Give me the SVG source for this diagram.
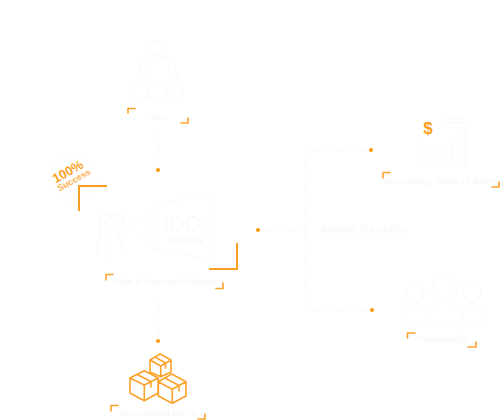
<svg xmlns="http://www.w3.org/2000/svg" width="500" height="420" viewBox="0 0 500 420">
<defs>
<style>
.f{fill:none;stroke:#fafafa;stroke-width:1}
.c{fill:none;stroke:#fc9f1e;stroke-width:2}
.o{fill:none;stroke:#fca22a;stroke-width:1.600;stroke-linejoin:round;stroke-linecap:round}
.d{fill:#fc9a0e}
.l{fill:none;stroke:#f6f6f6;stroke-width:1;stroke-dasharray:2 1}
text{font-family:"Liberation Sans",Arial,sans-serif}
.t{fill:#f9f9f9;font-size:9.500px;font-weight:bold;text-anchor:middle}
</style>
</defs>
<g id="connectors">
<path class="l" d="M158 135V170"/>
<path class="l" d="M158 298V341"/>
<path class="l" d="M258 230H306M371 150H306V310H372"/>
<circle class="d" cx="158" cy="170" r="2"/>
<circle class="d" cx="158" cy="341" r="2"/>
<circle class="d" cx="258" cy="230" r="2"/>
<circle class="d" cx="371" cy="150" r="2"/>
<circle class="d" cx="372" cy="310" r="2"/>
</g>
<g id="you">
<circle class="f" cx="158" cy="48" r="7.500"/>
<path class="f" d="M150 43H166M143 60L152 57H164L173 60L178 78H172L169 66V85M146 66V85M143 60L138 78H144M152 57L158 64L164 57"/>
<path class="f" d="M133 85H148V98H133ZM150 85H166V98H150ZM168 85H183V98H168Z"/>
<path class="o" d="M128 113V108.500H135M188 118V123H181"/>
<text class="t" x="158" y="120">You</text>
</g>
<g id="safe-secure">
<circle cx="73" cy="178" r="23" fill="none" stroke="#fcfcfc"/>
<g transform="rotate(-29 68 172)"><text x="68" y="176" fill="#fc9f1e" font-size="13" font-weight="bold" text-anchor="middle">100%</text></g>
<g transform="rotate(-29 74 180)"><text x="74" y="183" fill="#fcb050" font-size="9" font-weight="bold" text-anchor="middle">Success</text></g>
<path class="c" d="M79 211V186H107"/>
<path class="c" d="M237 243V269H209"/>
<path class="f" d="M100 215H122V232H100ZM100 232L96 255M109 232V260M118 232L124 255M122 222L128 226V229L122 232"/>
<circle class="f" cx="106" cy="218" r="5"/>
<circle class="f" cx="118" cy="218" r="6"/>
<path class="f" d="M130 222L152 215V238L130 230ZM152 205L213 193V260L152 248Z"/>
<text x="163" y="231" fill="#fafafa" font-size="22">IDO</text>
<text x="186" y="243" fill="#f8f8f8" font-size="7" font-weight="bold" text-anchor="middle">SUCCESS</text>
<path class="o" d="M106 280V274.500H113M223 283V288.500H216"/>
<text class="t" x="165" y="285">Safe &amp; Secure Platform</text>
</g>
<g id="successful-idos">
<path class="o" d="M160 354L171 360L160.700 366L150 360ZM150 360V372L160.700 376.700L171 372V360M160.700 366V376.700M155 357L165.500 363V368"/>
<path class="o" d="M144.300 370.700L158.300 378L144.300 385L130 378ZM130 378V393L144.300 400.700L158.300 393V378M144.300 385V400.700M137 374.500L151 381.500V387"/>
<path class="o" d="M171.700 374L186 381.700L172.300 389.300L158.300 381.700ZM158.300 381.700V396L172.300 403.300L186 396V381.700M172.300 389.300V403.300M165 378L179 385.500V391"/>
<path class="o" d="M111 411V405.500H118M205 414V419H198"/>
<text class="t" x="158" y="416">Successful IDO's</text>
</g>
<g id="added-benefits">
<text x="364" y="233" fill="#f9f9f9" font-size="11" font-weight="bold" text-anchor="middle" letter-spacing=".6">Added Benefits</text>
</g>
<g id="increasing-value">
<path class="f" d="M418 134V167H465V128M421 153L430 147L437 153L462 130M422 167V156M432 167V150M442 167V148M452 167V140M462 167V132M444 119H465M444 123H465M444 127H465"/>
<text x="428" y="134" fill="#fc9f1e" font-size="17" font-weight="bold" text-anchor="middle">$</text>
<path class="o" d="M383 178V172.500H390M499 182V187H492"/>
<text class="t" x="440.500" y="184">Increasing Value of IDO's</text>
</g>
<g id="community">
<circle class="f" cx="445" cy="287" r="12"/>
<circle class="f" cx="415" cy="293" r="9"/>
<circle class="f" cx="472" cy="293" r="9"/>
<path class="f" d="M427 323V310L445 300L463 310V323M403 323V312L415 303L427 310M463 310L472 303L486 312V323M403 323H486"/>
<path class="o" d="M407.500 338V333H415M476 342V347H468"/>
<text class="t" x="441.500" y="342">Community</text>
</g>
</svg>
